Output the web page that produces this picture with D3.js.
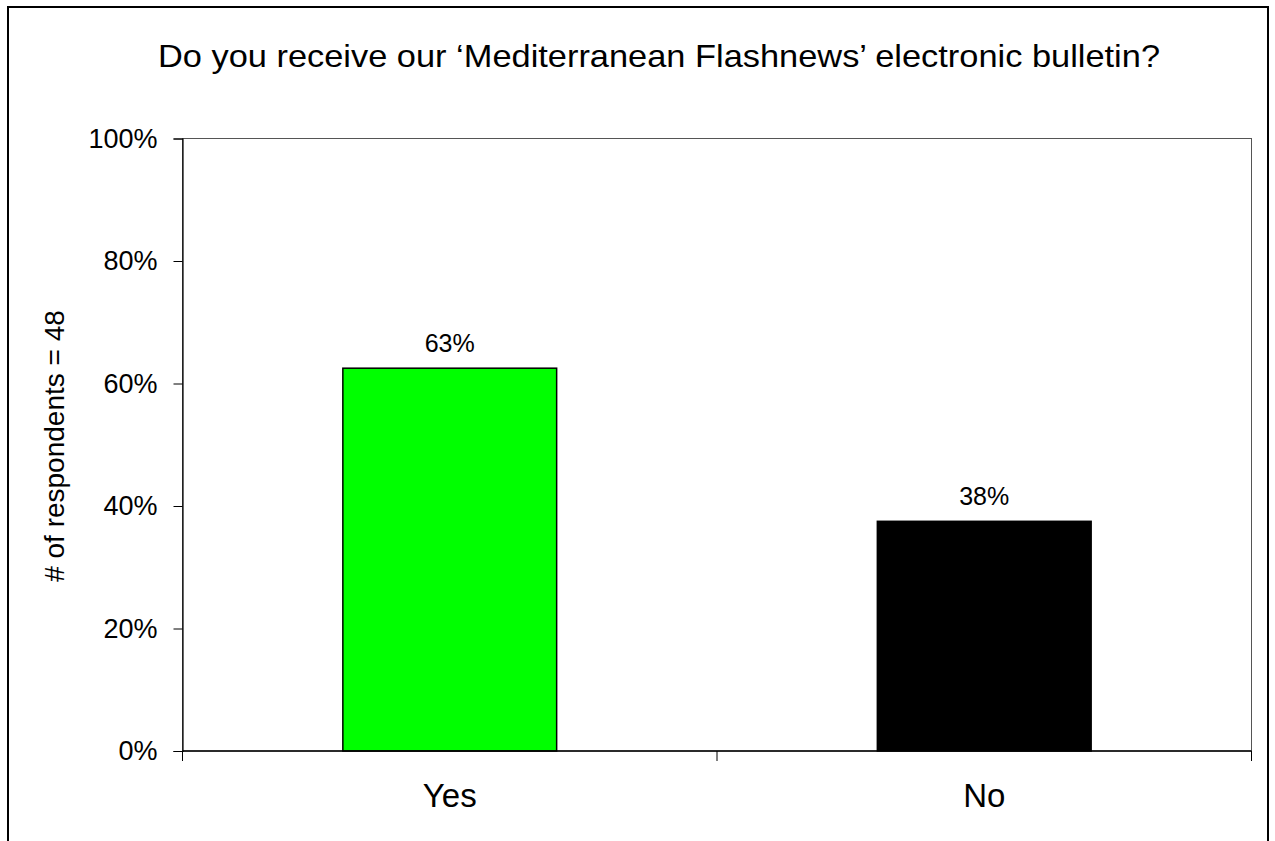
<!DOCTYPE html>
<html><head><meta charset="utf-8">
<script src="https://cdn.jsdelivr.net/npm/d3@7"></script>
<style>body{margin:0;background:#fff}svg{display:block}text{font-family:"Liberation Sans",Arial,sans-serif;fill:#000}</style>
</head><body>
<script>
const categories = ["Yes", "No"];
const values = [0.625, 0.375];
const valueLabels = ["63%", "38%"];
const barColors = ["#00ff00", "#000000"];
const yTicks = [0, 0.2, 0.4, 0.6, 0.8, 1.0];
const title = "Do you receive our \u2018Mediterranean Flashnews\u2019 electronic bulletin?";
const yTitle = "# of respondents = 48";

(function () {
const W = 1275, H = 841;
const svg = d3.select("body").append("svg").attr("width", W).attr("height", H);

// outer chart border (bottom is cut off)
svg.append("path").attr("d", "M8,845 V7 H1268 V845").attr("fill", "none").attr("stroke", "#000").attr("stroke-width", 2);

const pL = 182.5, pR = 1251.5, pT = 138.5, pB = 751;
const x = d3.scaleBand().domain(categories).range([pL, pR]).paddingInner(0.6).paddingOuter(0.3);
const y = d3.scaleLinear().domain([0, 1]).range([pB, pT]);

// plot area border
svg.append("rect").attr("x", pL).attr("y", pT).attr("width", pR - pL).attr("height", pB - pT)
  .attr("fill", "none").attr("stroke", "#555").attr("stroke-width", 1);

// bars
svg.selectAll(".bar").data(categories).enter().append("rect")
  .attr("x", d => x(d)).attr("width", x.bandwidth())
  .attr("y", (d, i) => y(values[i])).attr("height", (d, i) => pB - y(values[i]))
  .attr("fill", (d, i) => barColors[i]).attr("stroke", "#000").attr("stroke-width", 1.5);

// data labels
svg.selectAll(".lbl").data(categories).enter().append("text")
  .attr("x", d => x(d) + x.bandwidth() / 2).attr("y", (d, i) => y(values[i]) - 16)
  .attr("text-anchor", "middle").attr("font-size", 25).text((d, i) => valueLabels[i]);

// y axis
const yAxis = d3.axisLeft(y).tickValues(yTicks).tickFormat(d3.format(".0%")).tickSize(9).tickPadding(16);
const gy = svg.append("g").attr("transform", `translate(${pL},0)`).call(yAxis);
gy.select(".domain").attr("stroke", "#000").attr("stroke-width", 1.2);
gy.selectAll(".tick line").attr("stroke", "#000");
gy.selectAll("text").attr("font-size", 27).attr("font-family", "Liberation Sans, Arial, sans-serif").attr("fill", "#000");

// x axis: category labels, ticks at category boundaries
const gx = svg.append("g").attr("transform", `translate(0,${pB})`);
gx.append("line").attr("x1", pL).attr("x2", pR).attr("stroke", "#000").attr("stroke-width", 1.5);
const bounds = [pL, (pL + pR) / 2, pR];
gx.selectAll(".xt").data(bounds).enter().append("line")
  .attr("x1", d => d).attr("x2", d => d).attr("y1", 0).attr("y2", 10).attr("stroke", "#000");
gx.selectAll(".xl").data(categories).enter().append("text")
  .attr("x", d => x(d) + x.bandwidth() / 2).attr("y", 56)
  .attr("text-anchor", "middle").attr("font-size", 33).text(d => d);

// title
svg.append("text").attr("x", 659).attr("y", 67).attr("text-anchor", "middle").attr("font-size", 32)
  .attr("textLength", 1002).attr("lengthAdjust", "spacingAndGlyphs").text(title);

// y title
svg.append("text").attr("transform", `translate(64,446) rotate(-90)`).attr("text-anchor", "middle")
  .attr("font-size", 28).text(yTitle);
})();
</script>
</body></html>
